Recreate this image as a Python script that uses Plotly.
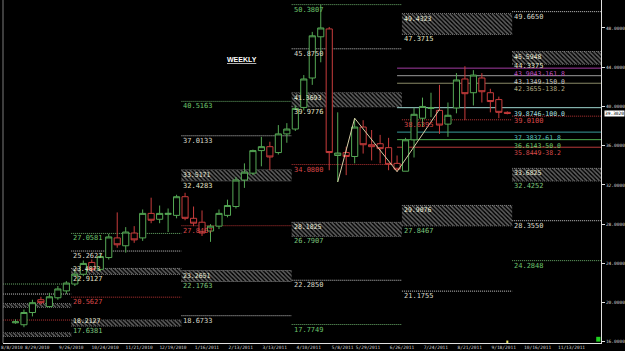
import plotly.graph_objects as go
import pandas as pd

# ---------------- weekly candles (week of 2010-08-08 ... 2011-09-18) ----------------
week_start = "2010-08-08"
opens  = [17.95, 17.75, 19.0, 20.3, 19.6, 20.5, 21.2, 21.9, 22.9, 24.1,
          23.4, 24.6, 26.6, 25.8, 27.1, 26.6, 29.1, 28.5, 29.0, 28.9,
          30.8, 28.6, 28.2, 27.3, 27.8, 28.9, 29.8, 32.5, 33.2, 35.5,
          35.9, 35.3, 37.2, 37.7, 39.9, 42.9, 47.1, 47.9, 35.0, 35.3,
          34.9, 37.9, 36.1, 36.2, 35.8, 34.2, 33.4, 36.6, 38.8, 39.8,
          39.6, 38.2, 39.85, 42.8, 41.4, 42.9, 41.4, 40.7, 39.4]
highs  = [18.3, 19.3, 20.3, 20.6, 21.0, 21.7, 22.2, 23.3, 24.3, 24.4,
          25.1, 27.0, 29.2, 27.7, 27.8, 29.5, 30.7, 29.9, 29.6, 31.0,
          31.2, 29.8, 29.4, 28.0, 29.5, 30.5, 32.8, 34.2, 35.6, 36.9,
          36.4, 38.1, 38.3, 40.1, 43.2, 47.6, 50.38, 48.1, 39.4, 35.9,
          38.8, 38.6, 37.6, 37.1, 36.8, 35.0, 36.8, 39.87, 40.9, 41.4,
          42.2, 40.4, 43.4, 44.1, 43.7, 43.4, 41.8, 41.0, 39.5]
lows   = [17.85, 17.5, 18.6, 19.8, 19.5, 20.3, 20.9, 21.7, 22.7, 23.1,
          23.2, 24.4, 25.6, 25.1, 26.1, 26.3, 28.1, 28.1, 27.2, 28.6,
          28.4, 27.8, 26.8, 26.2, 27.5, 28.7, 29.6, 31.7, 33.0, 33.9,
          33.5, 35.1, 36.3, 37.5, 39.6, 42.2, 44.5, 33.5, 32.3, 33.0,
          34.2, 35.2, 34.5, 34.2, 33.5, 33.354, 33.4, 34.8, 37.9, 38.9,
          37.2, 36.9, 39.3, 38.6, 40.1, 40.4, 39.4, 38.8, 39.2]
closes = [18.05, 19.0, 20.0, 20.0, 20.6, 21.4, 22.0, 22.9, 24.0, 23.4,
          24.7, 26.7, 25.9, 27.2, 26.4, 29.1, 28.4, 29.1, 29.1, 30.8,
          28.6, 28.1, 27.1, 27.8, 29.1, 29.9, 32.5, 33.3, 35.5, 35.9,
          34.85, 37.2, 37.7, 39.8, 42.8, 47.2, 48.0, 35.3, 35.25, 34.9,
          37.9, 36.1, 35.9, 35.7, 34.1, 33.6, 36.6, 39.2, 40.0, 39.85,
          38.1, 39.1, 42.7, 41.3, 43.2, 41.5, 40.5, 39.4, 39.302]
last_price = 39.302

weeks = pd.date_range(week_start, periods=len(opens), freq="7D")
bar_dates = weeks + pd.Timedelta(days=3)

# zigzag swing points (candle index, price)
zig_idx = [38, 40, 45, 50]
zig_val = [32.3, 38.8, 33.354, 39.7]

# ---------------- axis labels ----------------
tick_dates = ["2010-08-08", "2010-08-29", "2010-09-26", "2010-10-24", "2010-11-21",
              "2010-12-19", "2011-01-16", "2011-02-13", "2011-03-13", "2011-04-10",
              "2011-05-08", "2011-05-29", "2011-06-26", "2011-07-24", "2011-08-21",
              "2011-09-18", "2011-10-16", "2011-11-13"]
tick_text = [f"{d.month}/{d.day}/{d.year}" for d in pd.to_datetime(tick_dates)]
price_ticks = [16, 20, 24, 28, 32, 36, 40, 44, 48]

# ---------------- quarterly projection levels ----------------
proj_starts = ["2010-06-27", "2010-09-26", "2010-12-26", "2011-03-27", "2011-06-26", "2011-09-25"]
proj_weeks = 13
proj_labeled = [False, True, True, True, True, True]
outer_levels = [[21.90], [27.0581], [40.5163], [50.3807, 17.7749], [], [24.2848]]
inner_levels = [[20.88], [25.2627], [37.0133, 18.6733], [45.8750, 22.2850], [21.1755], [49.6650, 28.3550]]
pivot_levels = [[18.23], [20.5627], [27.8467], [34.0800], [38.6395], [39.0100]]
upper_boxes = [(19.87, 19.56), (23.4873, 22.9127), (33.5171, 32.4283), (41.3693, 39.9776),
               (49.4323, 47.3715), (45.5948, 44.3375)]
lower_boxes = [(16.90, 16.59), (18.2127, 17.6381), (23.2651, 22.1763), (28.1825, 26.7907),
               (29.9076, 27.8467), (33.6825, 32.4252)]

# ---------------- fibonacci extension ----------------
fib_low, fib_high = 33.354, 39.8746
fib_start_idx = 45
fib_ratios = [161.8, 150.0, 138.2, 100.0, 61.8, 50.0, 38.2]
fib_line_colors = ["#a23ca2", "#9a9a9a", "#8a8a66", "#9fd6d0", "#3a9c9c", "#4fae4f", "#b83a3a"]
fib_text_colors = ["#c050c0", "#c8c8c8", "#b0a880", "#a8e0e0", "#5cc0c0", "#6cd06c", "#d84a4a"]

# ---------------- styling ----------------
UP, DOWN = "#55a855", "#c83c3c"
MONO = "DejaVu Sans Mono"
x_range = [pd.Timestamp("2010-07-31 17:00"), pd.Timestamp("2011-12-07 08:00")]
y_range = [15.89, 50.85]
LABEL_H = 0.8   # approx. label height in price units

fig = go.Figure()

# hatched projection zones
bx, bh, bb, bw = [], [], [], []
span = pd.Timedelta(weeks=proj_weeks)
for s, ub, lb in zip(proj_starts, upper_boxes, lower_boxes):
    s = pd.Timestamp(s)
    for top, bot in (ub, lb):
        bx.append(s + span / 2)
        bh.append(top - bot)
        bb.append(bot)
        bw.append(span.total_seconds() * 1000)
fig.add_trace(go.Bar(
    x=bx, y=bh, base=bb, width=bw,
    marker=dict(color="black", line=dict(width=0),
                pattern=dict(shape="\\", fgcolor="#c4c4c4", bgcolor="black", size=3, solidity=0.5)),
    hoverinfo="skip", showlegend=False))

fig.add_trace(go.Candlestick(
    x=bar_dates, open=opens, high=highs, low=lows, close=closes,
    increasing=dict(line=dict(color=UP, width=1), fillcolor="black"),
    decreasing=dict(line=dict(color=DOWN, width=1), fillcolor="black"),
    whiskerwidth=0, hoverinfo="skip", showlegend=False))

fig.add_trace(go.Scatter(
    x=[bar_dates[i] for i in zig_idx], y=zig_val, mode="lines",
    line=dict(color="#d6cea6", width=1), hoverinfo="skip", showlegend=False))

shapes, annotations = [], []
DOT = "1px,1px"


def hline(x0, x1, y, color, dash=DOT):
    shapes.append(dict(type="line", xref="x", yref="y", x0=x0, x1=x1, y0=y, y1=y,
                       line=dict(color=color, width=1, dash=dash), layer="below"))


def label(x, y, text, color, anchor="top", size=7, yshift=0):
    annotations.append(dict(x=x, y=y, xref="x", yref="y", text=text, showarrow=False,
                            xanchor="left", yanchor=anchor, xshift=1, yshift=yshift, borderpad=0,
                            font=dict(family=MONO, size=size, color=color)))


for i, s in enumerate(proj_starts):
    s = pd.Timestamp(s)
    e = s + span
    for v in outer_levels[i]:
        hline(s, e, v, "#6aae6a")
        if proj_labeled[i]:
            label(s, v, f"{v:.4f}", "#6cc46c")
    for v in inner_levels[i]:
        hline(s, e, v, "#c8c8c8")
        if proj_labeled[i]:
            label(s, v, f"{v:.4f}", "#d8d8c8")
    for v in pivot_levels[i]:
        hline(s, e, v, "#b83434")
        if proj_labeled[i]:
            label(s, v, f"{v:.4f}", "#d84848")
    for (top, bot), bot_col in ((upper_boxes[i], "#e0e0c4"), (lower_boxes[i], "#7cc47c")):
        hline(s, e, top, "#d0d0d0")
        hline(s, e, bot, "#d0d0d0")
        if proj_labeled[i]:
            if top - bot < LABEL_H:
                label(s, bot, f"{top:.4f}", "#ececd4", anchor="bottom", size=6.5)
            else:
                label(s, top, f"{top:.4f}", "#ececd4", size=6.5)
            label(s, bot, f"{bot:.4f}", bot_col, yshift=3 if i == len(proj_starts) - 1 and top > fib_high else 0)

fib_x0 = bar_dates[fib_start_idx]
fib_label_x = pd.Timestamp(proj_starts[-1])
for r, lc, tc in zip(fib_ratios, fib_line_colors, fib_text_colors):
    v = fib_low + (fib_high - fib_low) * r / 100.0
    hline(fib_x0, x_range[1] + pd.Timedelta(days=30), v, lc, dash="solid")
    label(fib_label_x, v, f"{v:.4f}-{r:.1f}", tc, size=6.5, yshift=-1)

# left frame edge
shapes.append(dict(type="line", xref="paper", yref="paper", x0=0, x1=0, y0=0, y1=1,
                   line=dict(color="#7a7a7a", width=1)))
# current bar marker & status square
shapes.append(dict(type="line", xref="x", yref="y", x0=bar_dates[-1], x1=bar_dates[-1],
                   y0=y_range[0], y1=y_range[0] + 0.25, line=dict(color="#e8e060", width=2)))
shapes.append(dict(type="rect", xref="paper", yref="paper", x0=0.992, x1=0.999, y0=0.004, y1=0.018,
                   fillcolor="#20d020", line=dict(width=0)))

annotations.append(dict(x=0.4, y=0.843, xref="paper", yref="paper", text="<b><u>WEEKLY</u></b>",
                        showarrow=False, font=dict(family="Liberation Sans", size=7, color="white")))
annotations.append(dict(x=1, y=last_price, xref="paper", yref="y", text=f"{last_price:.4f}",
                        showarrow=False, xanchor="left", xshift=3, bgcolor="white", borderpad=0,
                        font=dict(family=MONO, size=4.5, color="black")))

fig.update_layout(
    width=625, height=351,
    margin=dict(l=3, r=24, t=0, b=8, autoexpand=False),
    paper_bgcolor="black", plot_bgcolor="black",
    barmode="overlay", boxgap=0.15, boxgroupgap=0.15,
    hovermode=False, showlegend=False,
    shapes=shapes, annotations=annotations,
    xaxis=dict(type="date", range=x_range, showgrid=False, zeroline=False,
               showline=True, linecolor="#e0e0e0", linewidth=1,
               tickvals=pd.to_datetime(tick_dates), ticktext=tick_text, ticks="",
               tickfont=dict(family=MONO, size=4.5, color="#d0d0d0"),
               rangeslider=dict(visible=False), automargin=False, fixedrange=True),
    yaxis=dict(side="right", range=y_range, showgrid=False, zeroline=False,
               showline=True, linecolor="#e0e0e0", linewidth=1,
               tickvals=price_ticks, ticktext=[f"{v:.4f}" for v in price_ticks],
               ticks="outside", ticklen=3, tickcolor="#e0e0e0",
               tickfont=dict(family=MONO, size=4.5, color="#d0d0d0"),
               automargin=False, fixedrange=True),
)

fig.write_html("out.html")
